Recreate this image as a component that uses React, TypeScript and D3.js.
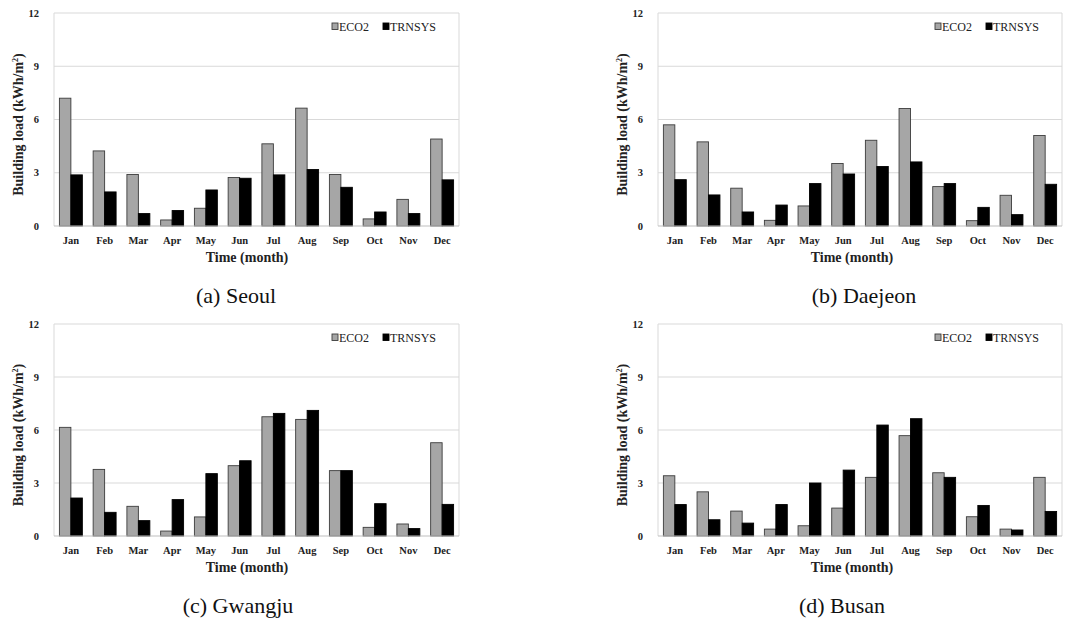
import React from "react";
import * as d3 from "d3";

const months = ["Jan", "Feb", "Mar", "Apr", "May", "Jun", "Jul", "Aug", "Sep", "Oct", "Nov", "Dec"];
const seriesNames = ["ECO2", "TRNSYS"];
const yTicks = [0, 3, 6, 9, 12];

const seoulECO2 = [7.2, 4.23, 2.9, 0.34, 1.0, 2.73, 4.63, 6.64, 2.9, 0.4, 1.5, 4.9];
const seoulTRNSYS = [2.88, 1.92, 0.7, 0.87, 2.03, 2.69, 2.88, 3.18, 2.18, 0.79, 0.7, 2.6];
const daejeonECO2 = [5.7, 4.74, 2.13, 0.32, 1.13, 3.52, 4.83, 6.62, 2.22, 0.3, 1.73, 5.1];
const daejeonTRNSYS = [2.61, 1.75, 0.79, 1.18, 2.39, 2.93, 3.35, 3.61, 2.39, 1.05, 0.64, 2.35];
const gwangjuECO2 = [6.15, 3.77, 1.68, 0.28, 1.08, 3.98, 6.75, 6.6, 3.7, 0.49, 0.68, 5.28];
const gwangjuTRNSYS = [2.15, 1.34, 0.87, 2.06, 3.53, 4.26, 6.94, 7.11, 3.7, 1.83, 0.42, 1.79];
const busanECO2 = [3.41, 2.5, 1.41, 0.39, 0.58, 1.58, 3.32, 5.68, 3.58, 1.09, 0.39, 3.32];
const busanTRNSYS = [1.78, 0.92, 0.73, 1.78, 3.0, 3.73, 6.28, 6.64, 3.32, 1.73, 0.34, 1.39];

const captions = ["(a)  Seoul", "(b)  Daejeon", "(c)  Gwangju", "(d)  Busan"];
const panelData = [
  [seoulECO2, seoulTRNSYS],
  [daejeonECO2, daejeonTRNSYS],
  [gwangjuECO2, gwangjuTRNSYS],
  [busanECO2, busanTRNSYS],
];

// layout (not data)
const boxes = [
  { left: 54, right: 459, top: 13, bottom: 226, capX: 236, timeX: 247 },
  { left: 658, right: 1062, top: 13, bottom: 226, capX: 864, timeX: 852 },
  { left: 54, right: 459, top: 324, bottom: 536, capX: 238, timeX: 247 },
  { left: 658, right: 1062, top: 324, bottom: 536, capX: 842, timeX: 852 },
];

const FONT = "'Times New Roman', 'Liberation Serif', Tinos, 'DejaVu Serif', serif";
const fills = ["#a6a6a6", "#000000"];
const strokes = ["#3c3c3c", "#000000"];

function Panel({ idx }: { idx: number }) {
  const b = boxes[idx];
  const data = panelData[idx];
  const x = d3.scaleBand<string>().domain(months).range([b.left, b.right]).paddingInner(0.32).paddingOuter(0.16);
  const xs = d3.scaleBand<string>().domain(seriesNames).range([0, x.bandwidth()]);
  const y = d3.scaleLinear().domain([0, 12]).range([b.bottom, b.top]);
  const ts = { fontFamily: FONT };
  return (
    <g>
      {yTicks.filter((t) => t > 0).map((t) => (
        <line key={"g" + t} x1={b.left} x2={b.right} y1={y(t)} y2={y(t)} stroke="#d9d9d9" strokeWidth={1} />
      ))}
      <line x1={b.left} x2={b.left} y1={b.top} y2={b.bottom} stroke="#d9d9d9" />
      <line x1={b.right} x2={b.right} y1={b.top} y2={b.bottom} stroke="#d9d9d9" />
      {seriesNames.map((s, si) =>
        months.map((m, mi) => {
          const v = data[si][mi];
          return (
            <rect
              key={s + m}
              x={(x(m) as number) + (xs(s) as number)}
              y={y(v)}
              width={xs.bandwidth()}
              height={y(0) - y(v)}
              fill={fills[si]}
              stroke={strokes[si]}
              strokeWidth={0.9}
            />
          );
        })
      )}
      <line x1={b.left} x2={b.right} y1={y(0)} y2={y(0)} stroke="#bfbfbf" strokeWidth={1} />
      {yTicks.map((t) => (
        <text key={"t" + t} style={ts} x={b.left - 15} y={y(t) + 3.5} textAnchor="end" fontSize={10.5} fontWeight="bold" fill="#222">
          {t}
        </text>
      ))}
      {months.map((m) => (
        <text key={"m" + m} style={ts} x={(x(m) as number) + x.bandwidth() / 2} y={b.bottom + 18} textAnchor="middle" fontSize={10.5} fontWeight="bold" fill="#222">
          {m}
        </text>
      ))}
      <text style={ts} x={b.timeX} y={b.bottom + 36} textAnchor="middle" fontSize={14} fontWeight="bold" fill="#222">
        Time (month)
      </text>
      <text
        style={ts}
        transform={`translate(${b.left - 31},${(b.top + b.bottom) / 2 + 5}) rotate(-90)`}
        textAnchor="middle"
        fontSize={14}
        fontWeight="bold"
        fill="#222"
      >
        Building  load (kWh/m
        <tspan fontSize={8} dy={-5}>2</tspan>
        <tspan dy={5}>)</tspan>
      </text>
      {/* legend */}
      <rect x={b.right - 127} y={b.top + 10} width={6} height={6.5} fill={fills[0]} stroke={strokes[0]} strokeWidth={0.9} />
      <text style={ts} x={b.right - 120} y={b.top + 17.5} fontSize={12} fill="#222">{seriesNames[0]}</text>
      <rect x={b.right - 76} y={b.top + 10} width={6} height={6.5} fill={fills[1]} stroke={strokes[1]} strokeWidth={0.9} />
      <text style={ts} x={b.right - 69} y={b.top + 17.5} fontSize={12} fill="#222">{seriesNames[1]}</text>
      <text style={ts} x={b.capX} y={b.bottom + 77} textAnchor="middle" fontSize={22} fill="#111">
        {captions[idx]}
      </text>
    </g>
  );
}

export default function App() {
  return (
    <svg
      width={1066}
      height={623}
      style={{ position: "absolute", left: 0, top: 0, background: "#fff" }}
    >
      <rect x={0} y={0} width={1066} height={623} fill="#fff" />
      {[0, 1, 2, 3].map((i) => (
        <Panel key={i} idx={i} />
      ))}
    </svg>
  );
}
